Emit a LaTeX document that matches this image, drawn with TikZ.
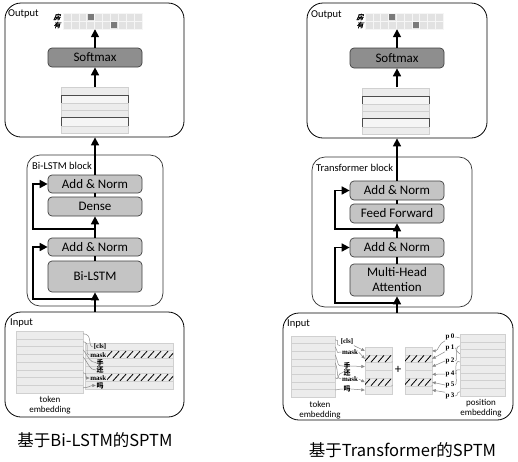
\documentclass[tikz,border=0pt]{standalone}
\usepackage{fontspec}
\setmainfont{Carlito}
\newfontfamily\cjk{Noto Sans CJK SC}
\newfontfamily\cjkit{Noto Sans CJK SC}[FakeSlant=0.25,FakeBold=1.5]
\newfontfamily\lblfont{Liberation Serif}
\usetikzlibrary{arrows.meta,calc}
\definecolor{boxgray}{HTML}{C4C4C4}
\definecolor{darkfill}{HTML}{8E8E8E}
\definecolor{stripefill}{HTML}{ECECEC}
\definecolor{stripeline}{HTML}{D0D0D0}
\definecolor{cellfill}{HTML}{E2E2E2}
\definecolor{cellline}{HTML}{F6F6F6}
\definecolor{cellgray}{HTML}{7A7A7A}
\definecolor{graytone}{HTML}{8A8A8A}
\tikzset{
 box/.style={draw=black!75, fill=boxgray, rounded corners=4pt, line width=0.7pt, minimum width=94pt, inner sep=0pt, font=\fontsize{13}{15}\selectfont, align=center},
 darkbox/.style={box, fill=darkfill},
 container/.style={draw=black, rounded corners=16pt, line width=0.8pt, inner sep=0pt},
 blockbox/.style={draw=black!80, rounded corners=13pt, line width=0.7pt, inner sep=0pt},
 region/.style={inner sep=0pt, draw=none},
 arr/.style={line width=1.6pt, -{Triangle[length=8pt,width=8pt]}},
 plainline/.style={line width=1.6pt},
 stripe/.style={fill=stripefill, draw=stripeline, line width=0.5pt},
 outlined/.style={fill=stripefill!50, draw=black!70, line width=0.6pt},
 cell/.style={fill=cellfill, draw=cellline, line width=0.6pt},
 hatchline/.style={line width=0.8pt, black},
 garr/.style={draw=graytone, line width=0.5pt, -{Triangle[length=3.5pt,width=3pt]}},
 gline/.style={draw=graytone, line width=0.5pt},
 lbl/.style={font=\lblfont\bfseries\fontsize{7}{8}\selectfont, inner sep=0.5pt},
 clbl/.style={font=\cjk\bfseries\fontsize{7}{8}\selectfont, inner sep=0.5pt},
 olbl/.style={font=\cjkit\fontsize{7}{8}\selectfont, inner sep=0pt},
 tag/.style={font=\fontsize{10.5}{12}\selectfont, anchor=west, inner sep=0pt},
 small/.style={font=\fontsize{9}{10}\selectfont, align=center, inner sep=0pt},
 caption/.style={font=\cjk\fontsize{16.5}{18}\selectfont, inner sep=0pt},
}
% stripes: x1 y1 x2 y2 n
\newcommand\mystripes[5]{%
 \foreach \i in {1,...,#5}{\draw[stripe] (#1,{#2+(\i-1)*(#4-#2)/#5}) rectangle (#3,{#2+\i*(#4-#2)/#5});}}
% hatch: x1 y1 x2 y2
\newcommand\myhatch[4]{%
 \begin{scope}\clip (#1,#2) rectangle (#3,#4);
 \foreach \k in {-8,-1,...,100}{\draw[hatchline] ({#1+\k},{#4-0.5}) -- ({#1+\k+6},{#2+0.5});}
 \end{scope}}
% hidden layer: x1 x2 ytop
\newcommand\myhidden[3]{%
 \draw[stripe] (#1,#3) rectangle (#2,#3+8);
 \draw[outlined] (#1,#3+8) rectangle (#2,#3+16);
 \draw[stripe] (#1,#3+16) rectangle (#2,#3+23);
 \draw[stripe] (#1,#3+23) rectangle (#2,#3+30);
 \draw[outlined] (#1,#3+30) rectangle (#2,#3+39);
 \draw[stripe] (#1,#3+39) rectangle (#2,#3+46);}
% grid: x1 ytop cellwidth
\newcommand\mygrid[3]{%
 \foreach \r in {0,1}{\foreach \c in {0,...,9}{\draw[cell] ({#1+\c*#3},{#2+\r*8}) rectangle ++(#3,8);}}
 \fill[cellgray] ({#1+3*#3+1},{#2+1}) rectangle ++({#3-2},6);
 \fill[cellgray] ({#1+6*#3+1},{#2+9}) rectangle ++({#3-2},6);}
\begin{document}
\begin{tikzpicture}[x=1pt,y=-1pt]
\useasboundingbox (0,0) rectangle (518,461);
\fill[white] (0,0) rectangle (518,461);

%================ LEFT =================
% output
\node[container, minimum width=179pt, minimum height=134pt] (lout) at (94.5,70) {};
\node[tag] (louttag) at (8,14) {Output};
\node[region, minimum width=79pt, minimum height=16pt] (lgrid) at (102.5,21) {};
\mygrid{63}{13}{7.9}
\node[olbl] (lch1) at (57,17) {房};
\node[olbl] (lch2) at (57,25) {有};
\node[darkbox, minimum height=19pt] (lsoft) at (95,57.5) {Softmax};
\node[region, minimum width=67pt, minimum height=46pt] (lhid) at (94.5,110) {};
\myhidden{61}{128}{87}
\draw[arr] (lsoft.north) -- (lsoft.north |- lgrid.south);
\draw[arr] (lsoft.south |- lhid.north) -- (lsoft.south);

% block
\node[blockbox, minimum width=136pt, minimum height=151pt] (lblock) at (95,230.5) {};
\node[tag] (lblocktag) at (32,166) {Bi-LSTM block};
\node[box, minimum height=18pt] (lan2) at (95,184) {Add \& Norm};
\node[box, minimum height=19pt] (ldense) at (95,206.5) {Dense};
\node[box, minimum height=18pt] (lan1) at (95,247) {Add \& Norm};
\node[box, minimum height=31pt] (llstm) at (95,276.5) {Bi-LSTM};

% input
\node[container, minimum width=179pt, minimum height=105pt] (lin) at (94.5,364.5) {};
\node[tag] (lintag) at (10,323) {Input};

\draw[arr] (llstm.south |- lin.north) -- (llstm.south);
\draw[plainline] (llstm.north) -- (lan1.south);
\draw[arr] (lan1.north) -- (ldense.south);
\draw[plainline] (ldense.north) -- (lan2.south);
\draw[arr] (lan2.north) -- (lan2.north |- lout.south);
\coordinate (lr1) at (95,299);
\coordinate (lr1c) at (33,299);
\coordinate (lr2) at (95,229);
\coordinate (lr2c) at (33,229);
\draw[arr] (lr1) -- (lr1c) |- (lan1.west);
\draw[arr] (lr2) -- (lr2c) |- (lan2.west);

% input stacks
\node[region, minimum width=67pt, minimum height=62pt] (lt) at (49.5,362) {};
\mystripes{16}{331}{83}{393}{8}
\node[region, minimum width=88pt, minimum height=46pt] (lm) at (129,366) {};
\mystripes{85}{343}{173}{389}{6}
\myhatch{107}{350.7}{173}{358.3}
\myhatch{107}{373.7}{173}{381.3}
\node[lbl, anchor=east] (lcls) at (107,347) {[cls]};
\node[lbl, anchor=east] (lmask1) at (107,355) {mask};
\node[clbl] (lshou) at (100,362.5) {手};
\node[clbl] (lhai) at (100,370) {还};
\node[lbl, anchor=east] (lmask2) at (107,378) {mask};
\node[clbl] (lma) at (100,385.5) {吗};
\node[small] (ltlab) at (50,405) {token\\embedding};
\draw[gline] ($(lt.north east)+(0,3)$) .. controls +(10,0) and +(-6,0) .. (lcls.west);
\draw[gline] ($(lt.north east)+(0,11)$) .. controls +(8,0) and +(-6,0) .. (lmask1.west);
\draw[gline] ($(lt.north east)+(0,19)$) .. controls +(6,8) and +(-6,0) .. (lshou.west);
\draw[gline] ($(lt.north east)+(0,26)$) .. controls +(6,8) and +(-6,0) .. (lhai.west);
\draw[garr] ($(lt.north east)+(0,42)$) .. controls +(5,0) and +(-5,0) .. (lmask2.west);
\draw[garr] ($(lt.north east)+(0,57)$) .. controls +(5,0) and +(-5,0) .. (lma.west);

%================ RIGHT =================
\node[container, minimum width=180pt, minimum height=135pt] (rout) at (397,70.5) {};
\node[tag] (routtag) at (311,15) {Output};
\node[region, minimum width=78pt, minimum height=16pt] (rgrid) at (404,21) {};
\mygrid{365}{13}{7.8}
\node[olbl] (rch1) at (360,17) {房};
\node[olbl] (rch2) at (360,25) {有};
\node[darkbox, minimum height=20pt] (rsoft) at (397,58) {Softmax};
\node[region, minimum width=67pt, minimum height=46pt] (rhid) at (395.5,110.5) {};
\myhidden{362}{429}{88}
\draw[arr] (rsoft.north) -- (rsoft.north |- rgrid.south);
\draw[arr] (rsoft.south |- rhid.north) -- (rsoft.south);

\node[blockbox, minimum width=160pt, minimum height=150pt] (rblock) at (392,232) {};
\node[tag] (rblocktag) at (316,168) {Transformer block};
\node[box, minimum height=19pt] (ran2) at (397,190.5) {Add \& Norm};
\node[box, minimum height=19pt] (rff) at (397,213.5) {Feed Forward};
\node[box, minimum height=19pt] (ran1) at (397,247.5) {Add \& Norm};
\node[box, minimum height=32pt] (rmha) at (397,280) {Multi-Head\\Attention};

\node[container, minimum width=230pt, minimum height=107pt] (rin) at (398,366.5) {};
\node[tag] (rintag) at (287,324) {Input};

\draw[arr] (rmha.south |- rin.north) -- (rmha.south);
\draw[plainline] (rmha.north) -- (ran1.south);
\draw[arr] (ran1.north) -- (rff.south);
\draw[plainline] (rff.north) -- (ran2.south);
\draw[arr] (ran2.north) -- (ran2.north |- rout.south);
\coordinate (rr1) at (397,303);
\coordinate (rr1c) at (335,303);
\coordinate (rr2) at (397,229);
\coordinate (rr2c) at (335,229);
\draw[arr] (rr1) -- (rr1c) |- (ran1.west);
\draw[arr] (rr2) -- (rr2c) |- (ran2.west);

% right input stacks
\node[region, minimum width=44pt, minimum height=61pt] (rt) at (313,366.5) {};
\mystripes{291}{336}{335}{397}{8}
\node[region, minimum width=27pt, minimum height=47pt] (rm) at (378.5,370.5) {};
\mystripes{365}{347}{392}{394}{6}
\myhatch{365}{354.8}{392}{362.7}
\myhatch{365}{378.3}{392}{386.2}
\node[font=\fontsize{13}{15}\selectfont, inner sep=0pt] (plus) at (398,370) {+};
\node[region, minimum width=27pt, minimum height=47pt] (rp) at (418.5,370.5) {};
\mystripes{405}{347}{432}{394}{6}
\myhatch{405}{354.8}{432}{362.7}
\myhatch{405}{378.3}{432}{386.2}
\node[region, minimum width=45pt, minimum height=62pt] (re) at (482.5,365) {};
\mystripes{460}{334}{505}{396}{8}
\node[small] (rtlab) at (320,410) {token\\embedding};
\node[small] (relab) at (481,408) {position\\embedding};

\node[lbl] (rcls) at (347,342) {[cls]};
\node[lbl] (rmask1) at (350,352) {mask};
\node[clbl] (rshou) at (347,366) {手};
\node[clbl] (rhai) at (347,372.5) {还};
\node[lbl] (rmask2) at (350,379) {mask};
\node[clbl] (rma) at (347,389) {吗};
\draw[garr] (rcls.south east) -- (rm.west |- 0,350.9);
\draw[garr] (rmask1.east) -- (rm.west |- 0,358.8);
\draw[garr] (rshou.east) -- (rm.west |- 0,366.6);
\draw[garr] (rmask2.east) -- (rm.west |- 0,382.2);
\draw[garr] (rma.east) -- (rm.west |- 0,390.1);
\draw[gline] ($(rt.north east)+(0,4)$) .. controls +(6,0) and +(-6,0) .. (rcls.south west);
\draw[gline] ($(rt.north east)+(0,11)$) .. controls +(4,8) and +(-6,0) .. (rmask1.west);
\draw[gline] ($(rt.north east)+(0,19)$) .. controls +(4,10) and +(-6,0) .. (rshou.west);
\draw[gline] ($(rt.north east)+(0,27)$) .. controls +(4,10) and +(-6,0) .. (rmask2.west);
\draw[gline] ($(rt.north east)+(0,42)$) .. controls +(4,4) and +(-6,0) .. (rhai.west);
\draw[gline] ($(rt.north east)+(0,54)$) .. controls +(6,0) and +(-6,0) .. (rma.west);

\node[lbl] (p0) at (450,337) {p\,0};
\node[lbl] (p1) at (450,348) {p\,1};
\node[lbl] (p2) at (450,361) {p\,2};
\node[lbl] (p4) at (450,374) {p\,4};
\node[lbl] (p5) at (450,385) {p\,5};
\node[lbl] (p3) at (450,396) {p\,3};
\draw[garr] (p0.south west) .. controls +(-6,2) and +(6,0) .. (rp.east |- 0,350.9);
\draw[garr] (p1.south west) -- (rp.east |- 0,358.8);
\draw[garr] (p2.west) -- (rp.east |- 0,366.6);
\draw[garr] (p4.west) -- (rp.east |- 0,374.4);
\draw[garr] (p5.west) -- (rp.east |- 0,382.2);
\draw[garr] (p3.north west) -- (rp.east |- 0,390.1);
\draw[gline] ($(re.north west)+(0,4)$) .. controls +(-4,0) and +(4,0) .. (p0.east);
\draw[gline] ($(re.north west)+(0,12)$) .. controls +(-6,0) and +(4,0) .. (p2.east);
\draw[gline] ($(re.north west)+(0,20)$) .. controls +(-8,-6) and +(4,0) .. (p1.east);
\draw[gline] ($(re.north west)+(0,28)$) .. controls +(-8,-4) and +(4,0) .. (p5.east);
\draw[gline] ($(re.north west)+(0,36)$) .. controls +(-8,0) and +(4,0) .. (p4.east);
\draw[gline] ($(re.north west)+(0,58)$) .. controls +(-4,0) and +(4,0) .. (p3.east);

% captions
\node[caption] (lcap) at (95,440) {基于Bi-LSTM的SPTM};
\node[caption] (rcap) at (402.5,450) {基于Transformer的SPTM};
\end{tikzpicture}
\end{document}
